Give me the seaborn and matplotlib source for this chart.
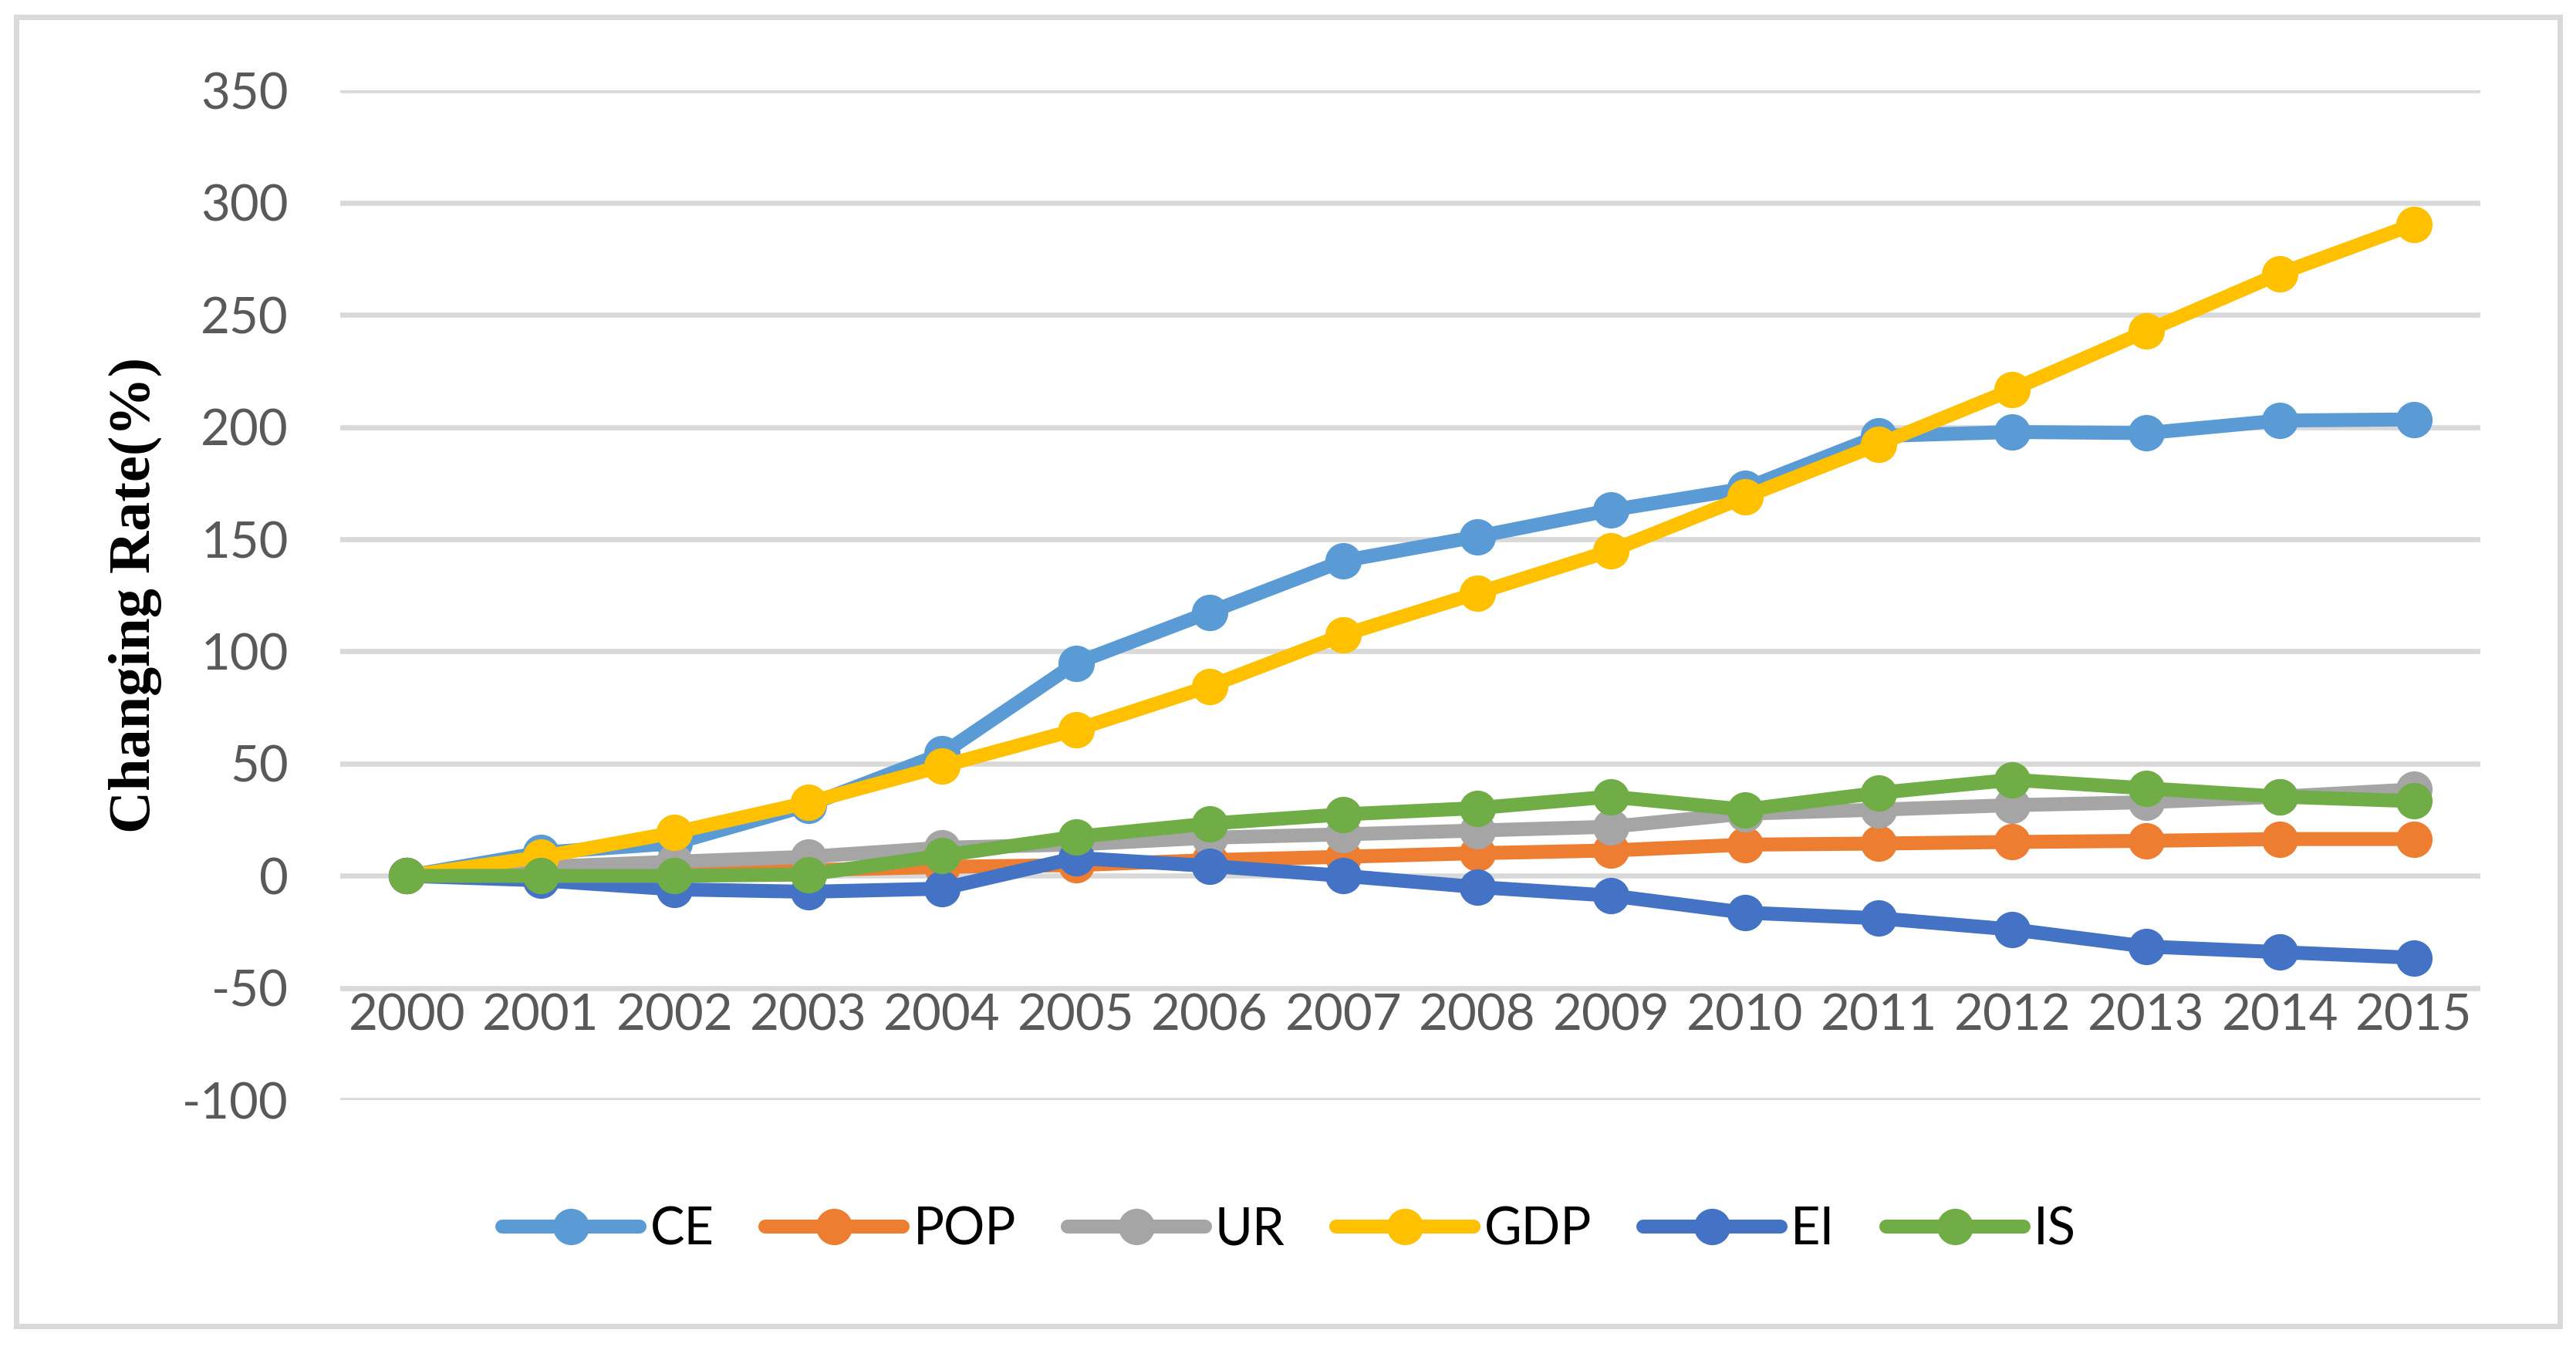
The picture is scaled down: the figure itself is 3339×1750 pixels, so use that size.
import numpy as np
import pandas as pd
import matplotlib
matplotlib.use("Agg")
import matplotlib.pyplot as plt
import seaborn as sns
from matplotlib.patches import Rectangle

# ---------------- data ----------------
years = list(range(2000, 2016))
series_names = ["CE", "POP", "UR", "GDP", "EI", "IS"]

CE  = [0, 10.3, 14.5, 31.5, 54.4, 94.8, 117.5, 140.4, 151.2, 163.0, 172.6, 196.0, 197.8, 197.3, 202.9, 203.4]
POP = [0, 0.5, 1.0, 2.5, 4.0, 4.8, 7.0, 8.5, 10.1, 11.3, 13.9, 14.4, 15.1, 15.6, 16.4, 16.4]
UR  = [0, 4.0, 6.3, 8.5, 12.5, 14.0, 17.0, 18.5, 20.2, 21.9, 27.7, 29.5, 31.5, 32.8, 35.3, 38.5]
GDP = [0, 8.4, 19.3, 32.7, 48.9, 65.1, 84.5, 107.4, 126.0, 144.9, 168.8, 192.3, 216.7, 242.7, 268.4, 290.3]
EI  = [0, -2.0, -6.0, -7.1, -5.7, 8.0, 4.4, 0.0, -5.0, -8.8, -16.4, -18.9, -23.9, -31.5, -34.0, -36.5]
IS  = [0, 0.0, 0.0, 0.6, 9.0, 17.4, 23.3, 27.4, 30.2, 35.3, 29.5, 37.0, 42.8, 39.0, 35.3, 33.3]

colors = {"CE": "#5B9BD5", "POP": "#ED7D31", "UR": "#A5A5A5",
          "GDP": "#FFC000", "EI": "#4472C4", "IS": "#70AD47"}

values = {"CE": CE, "POP": POP, "UR": UR, "GDP": GDP, "EI": EI, "IS": IS}
df = pd.DataFrame([(y, name, v) for name in series_names
                   for y, v in zip(years, values[name])],
                  columns=["Year", "Series", "Value"])

# ---------------- figure ----------------
sns.set_theme(style="white")
plt.rcParams["font.family"] = ["Lato", "DejaVu Sans"]
plt.rcParams["axes.unicode_minus"] = False

fig = plt.figure(figsize=(16.695, 8.75), dpi=200)
ax = fig.add_axes([0.132, 0.185, 0.831, 0.748])

sns.lineplot(data=df, x="Year", y="Value", hue="Series", hue_order=series_names,
             palette=colors, marker="o", markersize=17, markeredgewidth=0,
             linewidth=6.5, ax=ax)

ax.set_xlim(1999.5, 2015.5)
ax.set_ylim(-100, 350)
ax.set_yticks(np.arange(-100, 351, 50))
ax.set_xticks(years)
ax.set_xticklabels([])
ax.grid(axis="y", color="#D9D9D9", linewidth=2.4)
ax.set_axisbelow(True)
for s in ax.spines.values():
    s.set_visible(False)
ax.tick_params(axis="both", length=0)
ax.tick_params(axis="y", labelsize=23.5, labelcolor="#595959", pad=24)

# year labels sit just under the -50 gridline, as in the original
for y in years:
    ax.text(y, -62.5, str(y), ha="center", va="center",
            fontsize=23.5, color="#595959")

ax.set_xlabel("")
ax.set_ylabel("Changing Rate(%)", family="Liberation Serif",
              fontweight="bold", fontsize=27.5, color="black")
ax.yaxis.set_label_coords(-0.083, 0.5)

handles, labels = ax.get_legend_handles_labels()
ax.get_legend().remove()
fig.legend(handles, labels, loc="center", bbox_to_anchor=(0.5005, 0.089),
           ncol=6, frameon=False, fontsize=24, handlelength=2.67,
           handletextpad=0.2, columnspacing=1.0, labelcolor="black")

# chart frame
fig.patches.append(Rectangle((21 / 3339, 1 - 1719 / 1750), 1 - 42 / 3339,
                             (1719 - 22) / 1750, transform=fig.transFigure,
                             fill=False, edgecolor="#D9D9D9", linewidth=2.5))

fig.savefig("out.png", dpi=200)
